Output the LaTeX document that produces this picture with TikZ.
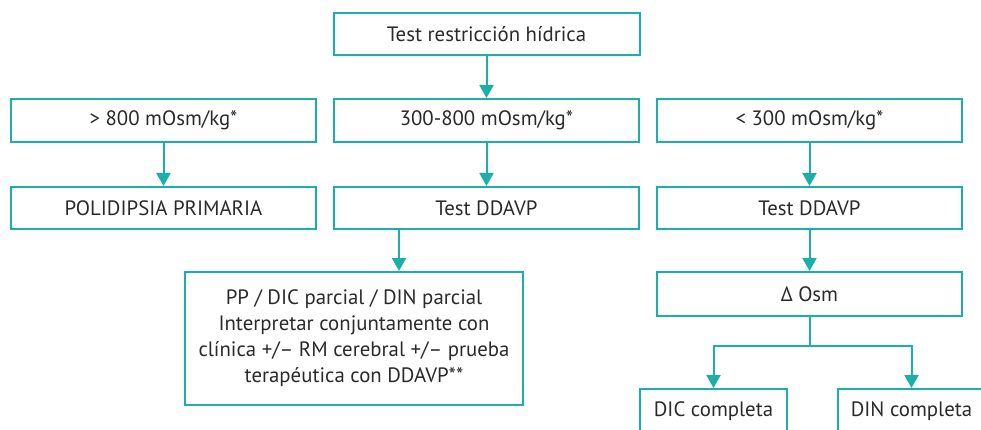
\documentclass[tikz,border=0pt]{standalone}
\usepackage{fontspec}
\setmainfont{PT Sans}
\usetikzlibrary{arrows.meta}
\definecolor{teal1}{HTML}{1BAFAA}
\definecolor{txt}{HTML}{2A2A2A}
\tikzset{
  box/.style={draw=teal1, line width=2pt, rectangle, inner sep=0pt, align=center,
    text=txt, font=\fontsize{20.8}{26}\selectfont},
  arr/.style={draw=teal1, line width=2pt, -{Triangle[length=13pt,width=14pt]}},
  ln/.style={draw=teal1, line width=2pt}
}
\begin{document}
\begin{tikzpicture}[x=1pt,y=-1pt]
\useasboundingbox (0,0) rectangle (981,430);
\clip (0,0) rectangle (981,430);
\node[box, minimum width=306pt, minimum height=42pt] (top) at (486.5,34) {Test restricción hídrica};
\node[box, minimum width=305pt, minimum height=43pt] (a1) at (163.5,120.5) {> 800 mOsm/kg*};
\node[box, minimum width=305pt, minimum height=43pt] (a2) at (486.5,120.5) {300-800 mOsm/kg*};
\node[box, minimum width=305pt, minimum height=43pt] (a3) at (809.5,120.5) {< 300 mOsm/kg*};
\node[box, minimum width=305pt, minimum height=42pt] (b1) at (163.5,208) {POLIDIPSIA PRIMARIA};
\node[box, minimum width=305pt, minimum height=42pt] (b2) at (486.5,208) {Test DDAVP};
\node[box, minimum width=305pt, minimum height=42pt] (b3) at (809.5,208) {Test DDAVP};
\node[box, minimum width=338pt, minimum height=133pt] (pp) at (354,338.5) {PP / DIC parcial / DIN parcial\\Interpretar conjuntamente con\\clínica +/– RM cerebral +/– prueba\\terapéutica con DDAVP**};
\node[box, minimum width=305pt, minimum height=44pt] (dosm) at (809.5,294) {Δ Osm};
\node[box, minimum width=147pt, minimum height=44pt] (dic) at (713.5,411) {DIC completa};
\node[box, minimum width=147pt, minimum height=44pt] (din) at (911.5,411) {DIN completa};
\draw[arr] (top) -- (a2);
\draw[arr] (a1) -- (b1);
\draw[arr] (a2) -- (b2);
\draw[arr] (a3) -- (b3);
\draw[arr] (b3) -- (dosm);
\path (b2.south) ++(-87.5,0) coordinate (s);
\draw[arr] (s) -- (s |- pp.north);
\draw[ln] (dosm.south) -- ++(0,29) coordinate (j);
\draw[arr] (j) -| (dic.north);
\draw[arr] (j) -| (din.north);
\end{tikzpicture}
\end{document}
